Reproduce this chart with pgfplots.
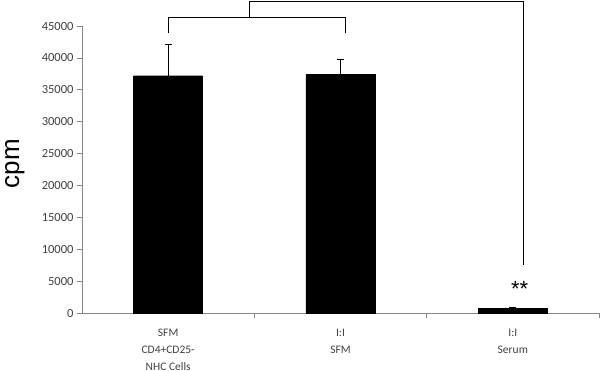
\documentclass[border=0pt]{standalone}
\usepackage{pgfplots}
\pgfplotsset{compat=1.18}
\usepackage{fontspec}
\setmainfont{Carlito}
\newfontfamily\arialfont{Liberation Sans}
\definecolor{axgray}{HTML}{868686}
\definecolor{txtgray}{HTML}{404040}
\begin{document}
\begin{tikzpicture}
\begin{axis}[
  at={(0,0)}, anchor=south west,
  scale only axis, width=517bp, height=287bp,
  xmin=-0.5, xmax=2.5, ymin=0, ymax=45000,
  axis x line=bottom, axis y line=left,
  axis line style={-, axgray, line width=0.6pt},
  clip=false,
  ytick={0,5000,...,45000},
  scaled y ticks=false,
  yticklabel style={/pgf/number format/1000 sep={}, font=\fontsize{12.5bp}{14bp}\selectfont, text=txtgray},
  /pgf/number format/assume math mode=true,
  tick align=outside,
  tick style={axgray, line width=0.6pt},
  major tick length=5bp,
  xtick={0,1,2},
  x tick style={draw=none},
  minor xtick={0.5,1.5,2.5},
  minor x tick style={draw=axgray, line width=0.6pt},
  minor tick length=5bp,
  xticklabels={{SFM\\CD4+CD25-\\NHC Cells},{I:I\\SFM},{I:I\\Serum}},
  xticklabel style={align=center, font=\fontsize{11.5bp}{17bp}\selectfont, text=txtgray, yshift=-8bp},
  ylabel={cpm},
  ylabel style={font=\arialfont\fontsize{26bp}{28bp}\selectfont, at={(rel axis cs:-0.13,0.52)}, anchor=center},
]
\addplot[ybar, bar width=69bp, fill=black, draw=black,
  error bars/.cd, y dir=plus, y explicit,
  error bar style={black, line width=0.6pt},
  error mark options={rotate=90, mark size=3.5bp, line width=0.6pt, black}]
  coordinates {
  (0,37200) +- (0,4930)
  (1,37420) +- (0,2360)
  (2,700) +- (0,250)
};
\draw[black, line width=0.7pt] (axis cs:0,43900) -- (axis cs:0,46400) -- (axis cs:1.03,46400) -- (axis cs:1.03,43900);
\draw[black, line width=0.7pt] (axis cs:0.47,46400) -- (axis cs:0.47,48900) -- (axis cs:2.06,48900) -- (axis cs:2.06,7520);
\node[font=\arialfont\fontsize{22bp}{22bp}\selectfont] at (axis cs:2.04,3700) {**};
\end{axis}
\pgfresetboundingbox
\path[use as bounding box] (-82bp,-58bp) rectangle (518bp,313bp);
\end{tikzpicture}
\end{document}
